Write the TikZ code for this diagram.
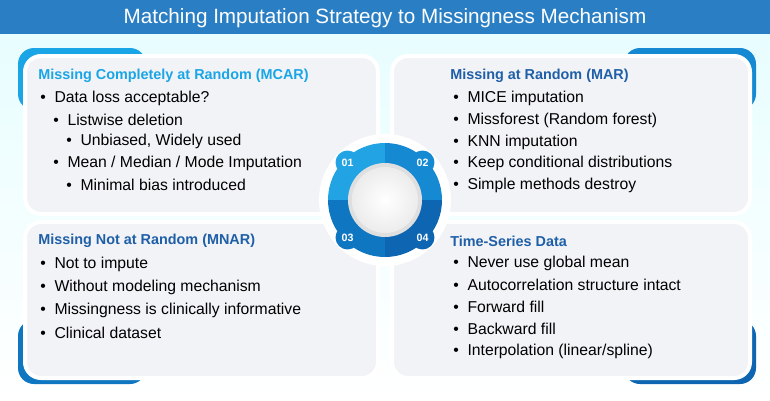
\documentclass[tikz,border=0pt]{standalone}
\usepackage{fontspec}
\setmainfont{Liberation Sans}
\definecolor{barblue}{HTML}{2A7FC4}
\definecolor{headcyan}{HTML}{1AA6E6}
\definecolor{headblue}{HTML}{1F5FA8}
\definecolor{ringa}{HTML}{22A3E3}
\definecolor{ringb}{HTML}{1689D3}
\definecolor{ringc}{HTML}{0F76C2}
\definecolor{ringd}{HTML}{0E66B2}
\definecolor{panelgray}{HTML}{F1F3F6}

\begin{document}
\begin{tikzpicture}[x=0.75pt,y=-0.75pt,
  line/.style={anchor=west, inner sep=0pt, font=\fontsize{11.8}{13}\selectfont},
  head/.style={anchor=west, inner sep=0pt, font=\fontsize{10.8}{13}\selectfont\bfseries},
  panel/.style={fill=panelgray, draw=white, line width=3pt, rounded corners=12pt}]
\useasboundingbox (0,0) rectangle (770,400);
% Background and title bar
\shade[top color=blue!8!cyan!10, bottom color=white] (0,0) rectangle (770,400);
\fill[barblue] (0,0) rectangle (770,34);
\node[white, font=\fontsize{15.5}{17}\selectfont] (title) at (385,18) {Matching Imputation Strategy to Missingness Mechanism};

% Accent tabs
\fill[headcyan, rounded corners=12pt] (18,48) rectangle (146,110);
\fill[ringb, rounded corners=12pt] (624,48) rectangle (756,110);
\fill[ringc, rounded corners=12pt] (18,320) rectangle (146,384);
\fill[ringd, rounded corners=12pt] (624,320) rectangle (756,384);

% Panels
\draw[panel] (25,56) rectangle (378,214);
\draw[panel] (392,56) rectangle (750,214);
\draw[panel] (25,222) rectangle (378,378);
\draw[panel] (392,222) rectangle (750,378);

% Center ring
\begin{scope}[shift={(385,200)}, yscale=-1]
  \fill[white] (0,0) circle (66);
  \fill[ringa] (0,0) -- (0,57) arc (90:180:57) -- cycle;
  \fill[ringb] (0,0) -- (57,0) arc (0:90:57) -- cycle;
  \fill[ringc] (0,0) -- (-57,0) arc (180:270:57) -- cycle;
  \fill[ringd] (0,0) -- (0,-57) arc (270:360:57) -- cycle;
  \foreach \ang/\col in {135/ringa, 45/ringb, 225/ringc, 315/ringd}{
    \fill[\col] (\ang:53) circle (12);
  }
  \fill[gray!25] (0,0) circle (37);
  \shade[inner color=white, outer color=gray!15] (0,0) circle (33);
\end{scope}
\node[white, font=\footnotesize\bfseries] (n1) at (347.5,162.5) {01};
\node[white, font=\footnotesize\bfseries] (n2) at (422.5,162.5) {02};
\node[white, font=\footnotesize\bfseries] (n3) at (347.5,237.5) {03};
\node[white, font=\footnotesize\bfseries] (n4) at (422.5,237.5) {04};

% MCAR
\node[head, headcyan] (mcar) at (38,76) {Missing Completely at Random (MCAR)};
\node[line] (a1) at (40,98) {\textbullet\ \ Data loss acceptable?};
\node[line] (a2) at (53,120) {\textbullet\ \ Listwise deletion};
\node[line] (a3) at (66,141) {\textbullet\ \ Unbiased, Widely used};
\node[line] (a4) at (53,163) {\textbullet\ \ Mean / Median / Mode Imputation};
\node[line] (a5) at (66,185) {\textbullet\ \ Minimal bias introduced};

% MAR
\node[head, headblue] (mar) at (450,76) {Missing at Random (MAR)};
\node[line] (b1) at (453,98) {\textbullet\ \ MICE imputation};
\node[line] (b2) at (453,120) {\textbullet\ \ Missforest (Random forest)};
\node[line] (b3) at (453,142) {\textbullet\ \ KNN imputation};
\node[line] (b4) at (453,163) {\textbullet\ \ Keep conditional distributions};
\node[line] (b5) at (453,185) {\textbullet\ \ Simple methods destroy};

% MNAR
\node[head, headblue] (mnar) at (38,241) {Missing Not at Random (MNAR)};
\node[line] (c1) at (40,264) {\textbullet\ \ Not to impute};
\node[line] (c2) at (40,287) {\textbullet\ \ Without modeling mechanism};
\node[line] (c3) at (40,310) {\textbullet\ \ Missingness is clinically informative};
\node[line] (c4) at (40,333) {\textbullet\ \ Clinical dataset};

% Time series
\node[head, headblue] (ts) at (450,241) {Time-Series Data};
\node[line] (d1) at (453,263) {\textbullet\ \ Never use global mean};
\node[line] (d2) at (453,285) {\textbullet\ \ Autocorrelation structure intact};
\node[line] (d3) at (453,307) {\textbullet\ \ Forward fill};
\node[line] (d4) at (453,329) {\textbullet\ \ Backward fill};
\node[line] (d5) at (453,351) {\textbullet\ \ Interpolation (linear/spline)};
\end{tikzpicture}
\end{document}
